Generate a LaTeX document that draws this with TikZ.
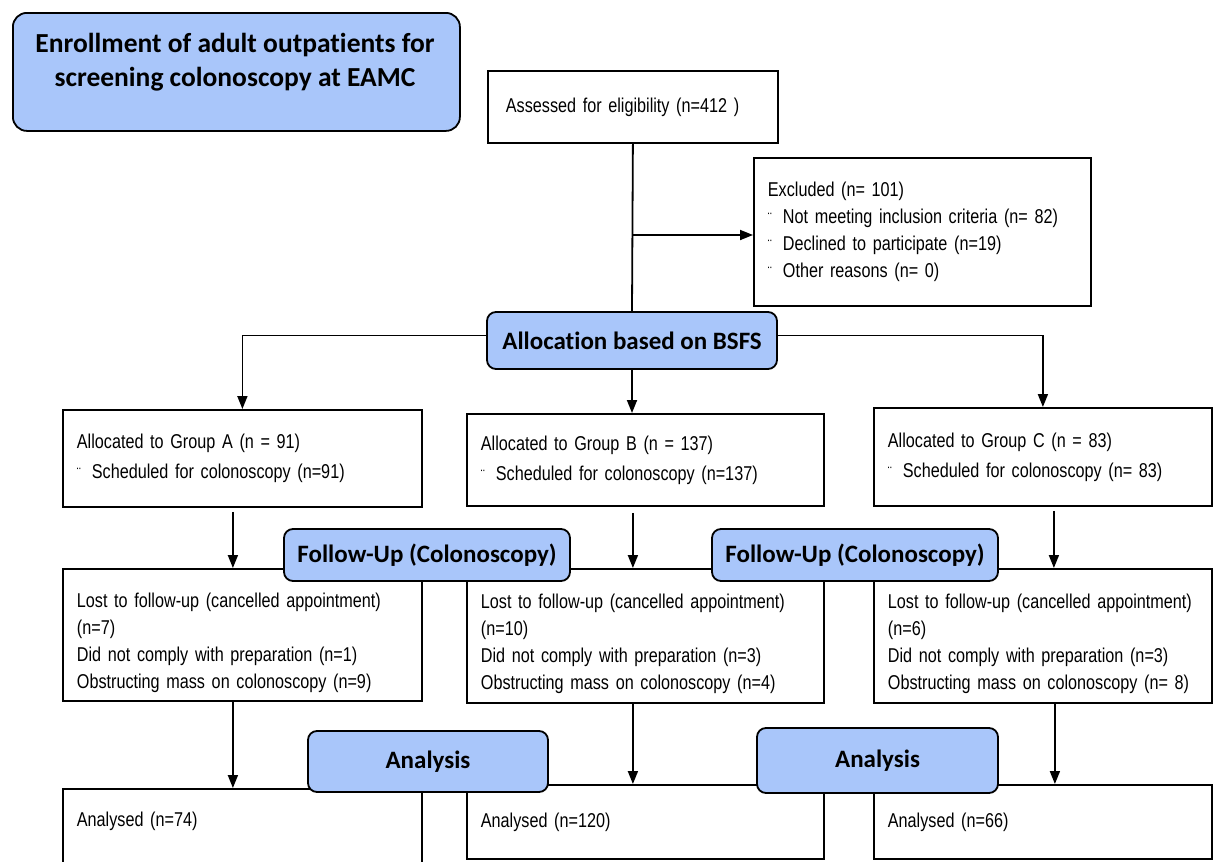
\documentclass[tikz,border=0pt]{standalone}
\usepackage{fontspec}
\setmainfont{Liberation Sans}[FakeStretch=0.81]
\newfontfamily\headfont{Carlito}[Ligatures=NoCommon]
\usetikzlibrary{arrows.meta}
\definecolor{headblue}{RGB}{169,198,250}
\hyphenpenalty=10000
\exhyphenpenalty=10000
\newcommand{\bul}{\makebox[15pt][l]{\fontsize{15}{15}\selectfont ¨}}
\newcommand{\topgap}{\rule{0pt}{31pt}}
\newcommand{\boxfont}{\fontsize{20}{27}\selectfont\fontdimen2\font=3.6pt\relax}
\tikzset{
  box/.style={draw, line width=1.8pt, anchor=north west, align=left, inner xsep=14pt, inner ysep=0pt, font=\boxfont},
  head/.style={draw, line width=1.8pt, rounded corners=9pt, fill=headblue, font=\headfont\bfseries\fontsize{25}{30}\selectfont, inner sep=0pt},
  arr/.style={-{Triangle[width=10pt,length=13pt]}, line width=1.8pt},
  link/.style={line width=1.8pt}
}
\begin{document}
\begin{tikzpicture}[x=1pt,y=-1pt]
\useasboundingbox (0,0) rectangle (1213,862);

% title
\node[head, rounded corners=14pt, anchor=north west, minimum width=447pt, minimum height=118pt] (enroll) at (12,12) {};
\node[font=\headfont\bfseries\fontsize{27.5}{34}\selectfont, align=center] (enrolltext) at (235,62) {Enrollment of adult outpatients for\\screening colonoscopy at EAMC};

% enrollment
\node[box, inner xsep=18pt, text width=254pt, minimum height=72pt] (assess) at (487,70) {Assessed for eligibility (n=412 )};
\node[box, text width=309pt, minimum height=148pt] (excl) at (753,157) {Excluded (n= 101)\\
\bul Not meeting inclusion criteria (n= 82)\\
\bul Declined to participate (n=19)\\
\bul Other reasons (n= 0)};
\node[head, minimum width=290pt, minimum height=57pt] (alloc) at (632,340.5) {Allocation based on BSFS};

\coordinate (split) at (632,235);
\draw[link] (assess.south) -- (alloc.north);
\draw[arr] (split) -- (excl.west |- split);

% allocation
\node[box, text width=331pt, minimum height=97pt] (grpA) at (62,409) {Allocated to Group A (n = 91)\\[3pt]
\bul Scheduled for colonoscopy (n=91)};
\node[box, text width=329pt, minimum height=92pt] (grpB) at (466,413) {Allocated to Group B (n = 137)\\[3pt]
\bul Scheduled for colonoscopy (n=137)};
\node[box, text width=310pt, minimum height=98pt] (grpC) at (873,407) {Allocated to Group C (n = 83)\\[3pt]
\bul Scheduled for colonoscopy (n= 83)};

\draw[arr] ([yshift=5pt]alloc.west) -| (grpA.north);
\draw[arr] ([yshift=5pt]alloc.east) -| (grpC.north);
\draw[arr] (alloc.south) -- (alloc.south |- grpB.north);

% follow-up
\node[box, text width=331pt, minimum height=132pt] (lostA) at (62,568) {\topgap Lost to follow-up (cancelled appointment)\\
(n=7)\\
Did not comply with preparation (n=1)\\
Obstructing mass on colonoscopy (n=9)};
\node[box, text width=329pt, minimum height=134pt] (lostB) at (466,568) {\topgap Lost to follow-up (cancelled appointment)\\
(n=10)\\
Did not comply with preparation (n=3)\\
Obstructing mass on colonoscopy (n=4)};
\node[box, text width=310pt, minimum height=134pt] (lostC) at (873,568) {\topgap Lost to follow-up (cancelled appointment)\\
(n=6)\\
Did not comply with preparation (n=3)\\
Obstructing mass on colonoscopy (n= 8)};

\draw[arr] ([xshift=-9.5pt,yshift=-4pt]grpA.south) -- ([xshift=-9.5pt]lostA.north);
\draw[arr] ([xshift=-12.5pt,yshift=-6pt]grpB.south) -- ([xshift=-12.5pt]lostB.north);
\draw[arr] ([xshift=11pt,yshift=-4pt]grpC.south) -- ([xshift=11pt]lostC.north);

\node[head, minimum width=286pt, minimum height=52pt] (fupA) at (427,555) {Follow-Up (Colonoscopy)};
\node[head, minimum width=286pt, minimum height=52pt] (fupB) at (855,555) {Follow-Up (Colonoscopy)};

% analysis
\node[box, text width=331pt, minimum height=80pt, text depth=20pt] (anA) at (62,788) {Analysed (n=74)};
\node[box, text width=329pt, minimum height=74pt] (anB) at (466,784) {Analysed (n=120)};
\node[box, text width=310pt, minimum height=74pt] (anC) at (873,784) {Analysed (n=66)};

\draw[arr] ([xshift=-9.5pt]lostA.south) -- ([xshift=-9.5pt]anA.north);
\draw[arr] ([xshift=-12.5pt]lostB.south) -- ([xshift=-12.5pt]anB.north);
\draw[arr] ([xshift=12pt]lostC.south) -- ([xshift=12pt]anC.north);

\node[head, minimum width=240pt, minimum height=61pt] (anaA) at (428,761.5) {Analysis};
\node[head, minimum width=241pt, minimum height=65pt] (anaB) at (877.5,760.5) {Analysis};
\end{tikzpicture}
\end{document}
